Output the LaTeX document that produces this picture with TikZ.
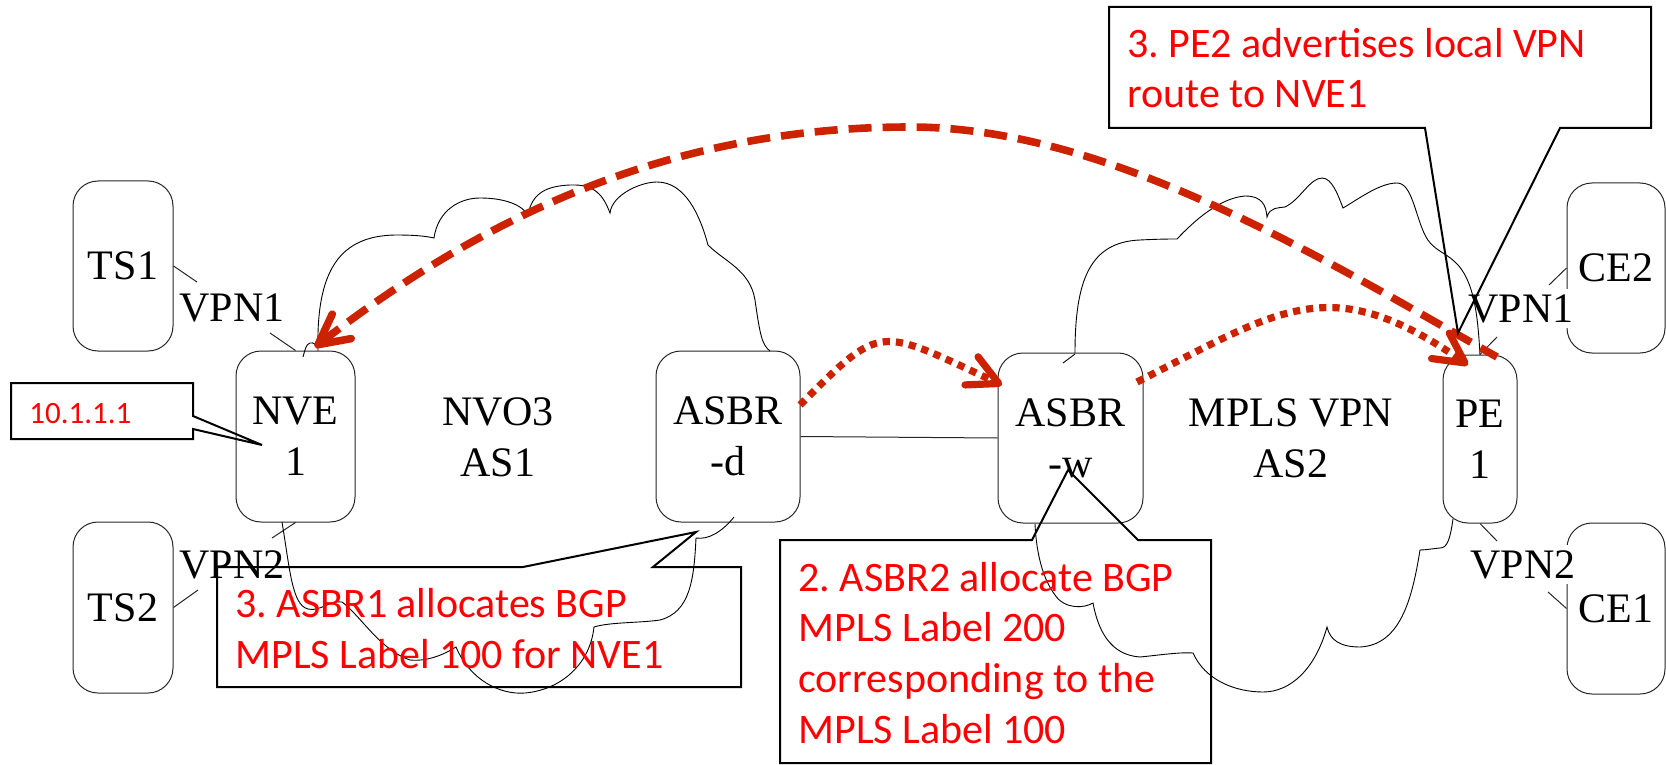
\documentclass[tikz,border=0pt]{standalone}
\usepackage{fontspec}
\setmainfont{Liberation Serif}
\newfontfamily\calfont{Carlito}
\usetikzlibrary{arrows.meta}
\definecolor{arrowred}{RGB}{204,34,0}
\definecolor{txtred}{RGB}{255,0,0}
\frenchspacing
\begin{document}
\begin{tikzpicture}[x=0.5pt,y=-0.5pt,
  box/.style={draw=black!85, line width=0.5pt, rounded corners=12.5pt, font=\fontsize{21}{25.5}\selectfont, align=center, inner sep=0pt},
  lbl/.style={font=\fontsize{21}{25.5}\selectfont, align=center, inner sep=0pt},
  vpn/.style={font=\fontsize{21}{25.5}\selectfont, fill=white, inner sep=2.5pt, anchor=base},
  stub/.style={draw=black!85, line width=0.5pt},
  cloud/.style={draw=black, line width=0.45pt},
  callout/.style={draw=black, line width=1pt, line join=miter},
  note/.style={font=\calfont\fontsize{21}{25.3}\selectfont, text=txtred, align=left, inner sep=0pt, anchor=base west},
  bigdash/.style={draw=arrowred, line width=3.8pt, dash pattern=on 11.5pt off 5.5pt},
  dots/.style={draw=arrowred, line width=3.6pt, dash pattern=on 3.6pt off 3pt},
  barb/.tip={Straight Barb[length=15pt,width=15.5pt,round]}
]
\useasboundingbox (0,0) rectangle (1666,765);

% boxes
\node[box, minimum width=50pt, minimum height=85pt] (ts1) at (123,266) {TS1};
\node[box, minimum width=50pt, minimum height=85.5pt] (ts2) at (123,607.5) {TS2};
\node[box, minimum width=59.5pt, minimum height=85.5pt] (nve1) at (295.5,436.5) {NVE\\1};
\node[box, minimum width=72pt, minimum height=85.5pt] (asbrd) at (728,436.5) {ASBR\\-d};
\node[box, minimum width=72.5pt, minimum height=85pt] (asbrw) at (1070.5,438) {ASBR\\-w};
\node[box, minimum width=37pt, minimum height=84pt] (pe1) at (1480,439) {PE\\1};
\node[box, minimum width=49pt, minimum height=85pt] (ce2) at (1616,268) {CE2};
\node[box, minimum width=49pt, minimum height=85.5pt] (ce1) at (1616,608.5) {CE1};

% area labels
\node[lbl] (nvo3) at (498,437) {NVO3\\AS1};
\node[lbl] (mpls) at (1291,438) {MPLS VPN\\AS2};
\node[vpn] (vpn1l) at (232,321) {VPN1};
\node[vpn] (vpn2l) at (232,578) {VPN2};
\node[vpn] (vpn1r) at (1521,322) {VPN1};
\node[vpn] (vpn2r) at (1523,578) {VPN2};

% stubs
\coordinate (s1) at (197,282);
\coordinate (s2) at (270,333);
\coordinate (s3) at (272,538);
\coordinate (s4) at (198,590);
\coordinate (s5) at (1549,285);
\coordinate (s6) at (1497,337);
\coordinate (s7) at (1497,541);
\coordinate (s8) at (1548,592);
\draw[stub] (ts1.east) -- (s1);
\draw[stub] (s2) -- (nve1.north);
\draw[stub] (nve1.south) -- (s3);
\draw[stub] (s4) -- (ts2.east);
\draw[stub] (ce2.west) -- (s5);
\draw[stub] (s6) -- (pe1.north);
\draw[stub] (pe1.south) -- (s7);
\draw[stub] (s8) -- (ce1.west);
\draw[stub] (asbrd.east) -- (asbrw.west);

% cloud 1 (NVO3)
\draw[cloud] (303,357) .. controls (305,350) and (306,344) .. (310,343) .. controls (314,342) and (316,345) .. (317,348);
\draw[cloud] (318,351) .. controls (316,270) and (340,236) .. (395,235) .. controls (415,235) and (425,236) .. (434,238)
 .. controls (438,210) and (460,198) .. (480,198) .. controls (505,198) and (522,205) .. (528,215)
 .. controls (532,192) and (548,186) .. (570,185) .. controls (595,184) and (603,195) .. (610,213)
 .. controls (612,195) and (640,182) .. (657,182) .. controls (685,182) and (700,215) .. (708,245)
 .. controls (725,262) and (750,270) .. (755,300) .. controls (760,335) and (762,345) .. (770,351);
\draw[cloud] (282,522) .. controls (290,570) and (292,605) .. (308,609) .. controls (320,612) and (330,600) .. (342,602)
 .. controls (360,615) and (380,650) .. (410,660) .. controls (430,662) and (448,652) .. (456,647)
 .. controls (470,680) and (500,695) .. (525,693) .. controls (560,690) and (590,665) .. (594,627)
 .. controls (610,622) and (640,623) .. (660,620) .. controls (690,612) and (694,580) .. (696,538)
 .. controls (708,540) and (722,532) .. (734,517);

% cloud 2 (MPLS VPN)
\draw[cloud] (1063,363) -- (1075,354);
\draw[cloud] (1075,353) .. controls (1075,280) and (1090,242) .. (1140,240) .. controls (1160,239) and (1170,239) .. (1177,239)
 .. controls (1195,220) and (1220,198) .. (1245,196) .. controls (1262,196) and (1266,205) .. (1267,217)
 .. controls (1270,207) and (1278,208) .. (1285,207) .. controls (1300,200) and (1310,178) .. (1322,178)
 .. controls (1332,178) and (1338,195) .. (1343,208)
 .. controls (1360,198) and (1380,183) .. (1397,183) .. controls (1412,183) and (1415,215) .. (1425,235)
 .. controls (1432,250) and (1445,252) .. (1455,262) .. controls (1475,280) and (1478,320) .. (1480,355);
\draw[cloud] (1453,519) .. controls (1450,540) and (1447,548) .. (1440,548) .. controls (1430,549) and (1425,550) .. (1420,550)
 .. controls (1412,600) and (1400,645) .. (1360,647) .. controls (1340,647) and (1330,640) .. (1327,627)
 .. controls (1315,670) and (1290,692) .. (1263,692) .. controls (1235,692) and (1205,680) .. (1193,653)
 .. controls (1180,652) and (1160,655) .. (1140,657) .. controls (1110,655) and (1098,630) .. (1093,603)
 .. controls (1085,608) and (1065,610) .. (1055,595) .. controls (1040,575) and (1036,545) .. (1035,524);

% red arrows
\coordinate (dl) at (315,347);
\coordinate (dtop) at (910,127);
\coordinate (dr) at (1497,357);
\draw[bigdash, barb-] (dl) .. controls (473,225) and (660,127) .. (dtop) .. controls (1110,127) and (1323,259) .. (dr);
\coordinate (a1s) at (800,405);
\coordinate (a1e) at (1002,385);
\draw[dots, -barb] (a1s) .. controls (883,322) and (877,327) .. (a1e);
\coordinate (a2s) at (1137,382);
\coordinate (a2e) at (1468,365);
\draw[dots, -barb] (a2s) .. controls (1281,309) and (1330,269) .. (a2e);

% callouts (text anchored at the baseline of the last line)
\draw[callout] (11,383) -- (193,383) -- (193,416) -- (262,445) -- (193,429) -- (193,439) -- (11,439) -- cycle;
\node[note, font=\calfont\fontsize{15.5}{18}\selectfont] (ip) at (29,423) {10.1.1.1};
\draw[callout] (217,567) -- (523,567) -- (696,532) -- (653,567) -- (741,567) -- (741,687) -- (217,687) -- cycle;
\node[note] (n3a) at (235,668) {3. ASBR1 allocates BGP\\MPLS Label 100 for NVE1};
\draw[callout] (780,540) -- (1032,540) -- (1068,470) -- (1138,540) -- (1211,540) -- (1211,763) -- (780,763) -- cycle;
\node[note] (n2) at (798,743) {2. ASBR2 allocate BGP\\MPLS Label 200\\corresponding to the\\MPLS Label 100};
\draw[callout] (1109,7) -- (1651,7) -- (1651,128) -- (1560,128) -- (1458,333) -- (1425,128) -- (1109,128) -- cycle;
\node[note] (n3b) at (1127,108) {3. PE2 advertises local VPN\\route to NVE1};
\end{tikzpicture}
\end{document}
